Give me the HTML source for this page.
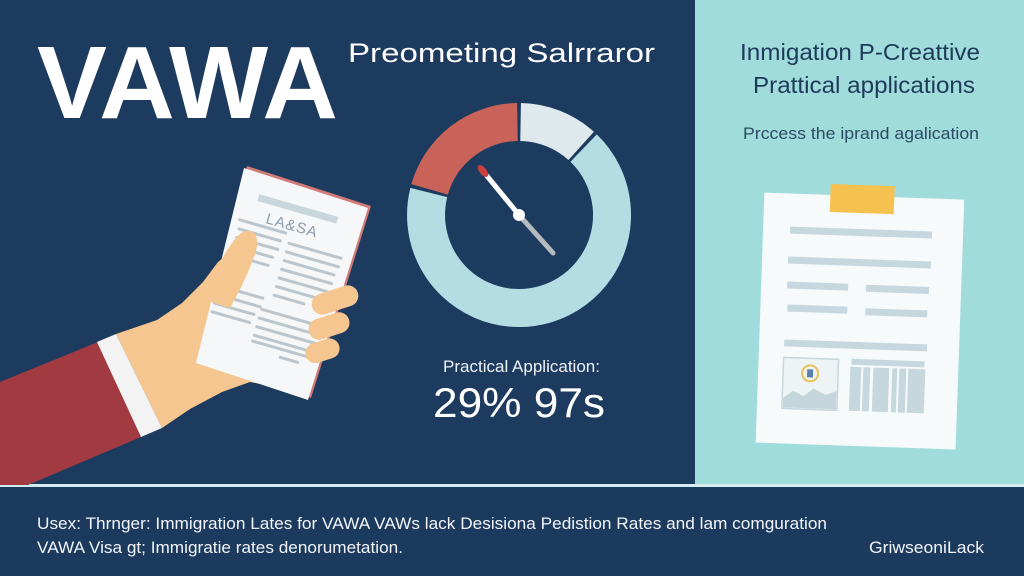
<!DOCTYPE html>
<html><head><meta charset="utf-8"><style>
html,body{margin:0;padding:0;width:1024px;height:576px;overflow:hidden;background:#1c3b5f}
svg{display:block}
text{font-family:"Liberation Sans",sans-serif}
</style></head><body>
<svg width="1024" height="576" viewBox="0 0 1024 576" xmlns="http://www.w3.org/2000/svg">
<rect width="1024" height="576" fill="#1c3b5f"/>
<rect x="695" y="0" width="329" height="485" fill="#a0dcdc"/>
<rect x="0" y="484" width="1024" height="3" fill="#d3ecf0"/>
<rect x="0" y="487" width="1024" height="89" fill="#1b3a5d"/>

<!-- Titles -->
<text x="37" y="118" font-size="103" font-weight="bold" fill="#ffffff" textLength="301" lengthAdjust="spacingAndGlyphs">VAWA</text>
<text x="348" y="62" font-size="27" fill="#ffffff" textLength="307" lengthAdjust="spacingAndGlyphs">Preometing Salrraror</text>

<!-- Donut -->
<g fill="none" stroke-width="38">
<path d="M429.6,189.4 A93,93 0 0 1 517.4,122.0" stroke="#c9635a"/>
<path d="M520.6,122.0 A93,93 0 0 1 581.2,145.9" stroke="#dfe8ec"/>
<path d="M583.6,148.1 A93,93 0 1 1 428.8,192.5" stroke="#b3dde3"/>
</g>
<line x1="519" y1="215" x2="553" y2="253" stroke="#b4babd" stroke-width="5" stroke-linecap="round"/>
<line x1="487" y1="176" x2="519" y2="215" stroke="#ffffff" stroke-width="5" stroke-linecap="round"/>
<ellipse cx="483" cy="171" rx="7" ry="3.5" transform="rotate(51 483 171)" fill="#c9403e"/>
<circle cx="519" cy="215" r="6" fill="#ffffff"/>

<text x="443" y="372" font-size="17" fill="#eef3f7" textLength="157" lengthAdjust="spacingAndGlyphs">Practical Application:</text>
<text x="433" y="417" font-size="42" fill="#ffffff" textLength="172" lengthAdjust="spacingAndGlyphs">29% 97s</text>

<!-- Hand + paper -->
<polygon points="0,382 98,342 141,437 28,485 0,485" fill="#a23a42"/>
<path d="M116,334 L157,320 L182,303 L203,282 L218,262 L245,240 L300,300 L290,390 L250,382 L222,392 L190,409 L162,428 Z" fill="#f6c690"/>
<polygon points="97,342 116,334 162,428 141,437" fill="#f3f3f3"/>
<polygon points="247,166 371,206 311,398 199,361" fill="#d27a78"/>
<polygon points="244,168 368,208 308,400 196,363" fill="#f5f7f8"/>
<g transform="translate(244,168) rotate(16)">
<rect x="22" y="21" width="82" height="7" fill="#c9d6dc"/>
<text x="62" y="47" font-size="15" fill="#8e9cab" text-anchor="middle" letter-spacing="1">LA&amp;SA</text>
<g stroke="#bcc5cb" stroke-width="3" stroke-linecap="round">
<line x1="10" y1="51" x2="58" y2="51"/>
<line x1="12" y1="60" x2="55" y2="60"/>
<line x1="12" y1="69" x2="55" y2="69"/>
<line x1="12" y1="78" x2="52" y2="78"/>
<line x1="12" y1="87" x2="50" y2="87"/>
<line x1="64" y1="60" x2="118" y2="60"/>
<line x1="64" y1="69" x2="118" y2="69"/>
<line x1="64" y1="78" x2="116" y2="78"/>
<line x1="64" y1="87" x2="116" y2="87"/>
<line x1="64" y1="96" x2="114" y2="96"/>
<line x1="64" y1="105" x2="112" y2="105"/>
<line x1="64" y1="114" x2="95" y2="114"/>
<line x1="9" y1="120" x2="54" y2="120"/>
<line x1="9" y1="129" x2="54" y2="129"/>
<line x1="9" y1="138" x2="50" y2="138"/>
<line x1="9" y1="147" x2="48" y2="147"/>
<line x1="56" y1="131" x2="120" y2="131"/>
<line x1="56" y1="140" x2="120" y2="140"/>
<line x1="56" y1="149" x2="118" y2="149"/>
<line x1="56" y1="158" x2="116" y2="158"/>
<line x1="56" y1="164" x2="114" y2="164"/>
<line x1="87" y1="172" x2="105" y2="172"/>
</g>
</g>
<path d="M205,300 C212,278 222,255 236,238 C242,230 252,228 256,236 C259,244 256,252 252,262 C246,278 238,294 230,308 Z" fill="#f6c690"/>
<g fill="#f6c690">
<rect x="311" y="289.5" width="48" height="21" rx="10.5" transform="rotate(-18 335 300)"/>
<rect x="308" y="315.5" width="42" height="21" rx="10.5" transform="rotate(-18 329 326)"/>
<rect x="305" y="341" width="35" height="20" rx="10" transform="rotate(-18 322 351)"/>
</g>

<!-- Right panel text -->
<text x="740" y="60" font-size="23.5" fill="#1d3a58" textLength="240" lengthAdjust="spacingAndGlyphs">Inmigation P-Creattive</text>
<text x="753" y="93" font-size="23.5" fill="#1d3a58" textLength="222" lengthAdjust="spacingAndGlyphs">Prattical applications</text>
<text x="743" y="139" font-size="17" fill="#2c4a63" textLength="236" lengthAdjust="spacingAndGlyphs">Prccess the iprand agalication</text>

<!-- Right clipboard paper -->
<g transform="rotate(2 858 320)">
<rect x="760" y="196" width="200" height="250" fill="#f7fafa"/>
<g fill="#c6d7dd">
<rect x="787" y="229" width="142" height="7"/>
<rect x="786" y="259" width="143" height="7"/>
<rect x="786" y="284" width="61" height="7"/>
<rect x="865" y="284.5" width="63" height="7"/>
<rect x="787" y="307" width="60" height="7"/>
<rect x="865" y="308" width="62" height="7"/>
<rect x="785" y="342" width="143" height="7"/>
<rect x="853" y="359" width="73" height="6"/>
<rect x="852" y="367" width="11" height="44"/>
<rect x="865" y="367" width="7" height="44"/>
<rect x="875" y="367" width="16" height="44"/>
<rect x="894" y="367" width="5" height="44"/>
<rect x="901" y="367" width="7" height="44"/>
<rect x="910" y="367" width="17" height="44"/>
</g>
<rect x="785" y="360" width="55" height="51" fill="#eef4f5" stroke="#c8d7dc" stroke-width="1.5"/>
<polygon points="786,400 796,393 806,398 816,390 828,396 839,392 839,410 786,410" fill="#c4d5db"/>
<circle cx="812" cy="375" r="8" fill="#f2f3ef" stroke="#e8c25a" stroke-width="2"/>
<rect x="809" y="371" width="6" height="8" fill="#5a7fa8"/>
<rect x="826" y="185" width="64" height="28" fill="#f6c24f"/>
</g>

<!-- Bottom band text -->
<text x="37" y="529" font-size="17" fill="#f2f5f8" textLength="790" lengthAdjust="spacingAndGlyphs">Usex: Thrnger: Immigration Lates for VAWA VAWs lack Desisiona Pedistion Rates and lam comguration</text>
<text x="37" y="553" font-size="17" fill="#f2f5f8" textLength="366" lengthAdjust="spacingAndGlyphs">VAWA Visa gt; Immigratie rates denorumetation.</text>
<text x="869" y="553" font-size="17" fill="#f2f5f8" textLength="115" lengthAdjust="spacingAndGlyphs">GriwseoniLack</text>
</svg>
</body></html>
